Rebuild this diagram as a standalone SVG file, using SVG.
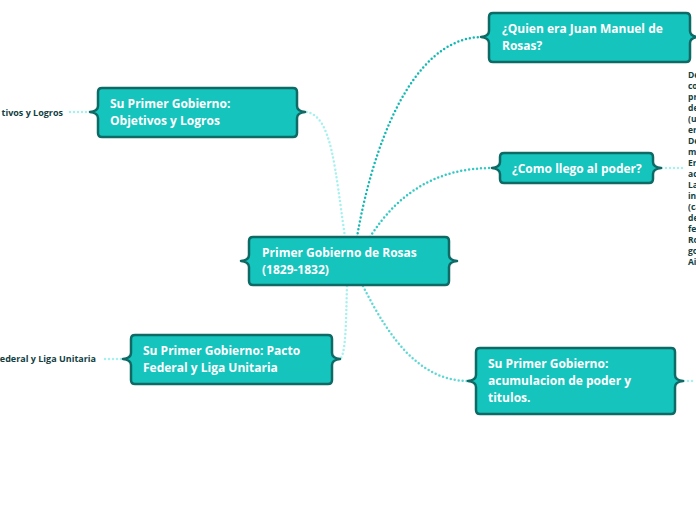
<svg xmlns="http://www.w3.org/2000/svg" width="696" height="520" viewBox="0 0 696 520">
<style>
.node path{fill:#15c4bd;stroke:#0f6a66;stroke-width:2.5;stroke-linejoin:round}
.node text{font-family:"Open Sans","Noto Sans","Liberation Sans",sans-serif;font-weight:bold;font-size:12px;fill:#ffffff}
.c{fill:none;stroke-width:2.5;stroke-linecap:round;stroke-dasharray:0 4}
.frag{font-family:"Open Sans","Noto Sans","Liberation Sans",sans-serif;font-weight:bold;font-size:8.5px;fill:#12403f}
.side{font-size:9px}
</style>
<rect width="696" height="520" fill="#ffffff"/>
<g id="connectors">
<path class="c" stroke="#13b8b2" d="M357,237 C372,150 410,40 480,37"/>
<path class="c" stroke="#35c9c4" d="M370,237 C400,190 440,168 492,168"/>
<path class="c" stroke="#a6f1ef" d="M345,237 C335,170 332,115 306,112"/>
<path class="c" stroke="#a6f1ef" d="M347,286 C346,320 346,350 341,358"/>
<path class="c" stroke="#5fd8d4" d="M363,286 C390,340 420,380 467,381"/>
<path class="c" stroke="#a6f1ef" stroke-width="1.5" d="M90,112 H66"/>
<path class="c" stroke="#a6f1ef" stroke-width="1.5" d="M121,359 H101"/>
<path class="c" stroke="#a6f1ef" stroke-width="1.5" d="M662,168 H686"/>
<path class="c" stroke="#a6f1ef" stroke-width="1.5" d="M684,381 H696"/>
</g>
<g id="central" class="node">
<path d="M253,237 H445 Q449,237 449,241 V255 Q449,260 457,261 Q449,262 449,267 V281 Q449,285 445,285 H253 Q249,285 249,281 V267 Q249,262 241,261 Q249,260 249,255 V241 Q249,237 253,237 Z"/>
<text x="262" y="257">Primer Gobierno de Rosas</text>
<text x="262" y="274">(1829-1832)</text>
</g>
<g id="quien" class="node">
<path d="M493,13 H686 Q690,13 690,17 V31 Q690,36 698,37 Q690,38 690,43 V58 Q690,62 686,62 H493 Q489,62 489,58 V43 Q489,38 481,37 Q489,36 489,31 V17 Q489,13 493,13 Z"/>
<text x="502" y="33">¿Quien era Juan Manuel de</text>
<text x="502" y="50">Rosas?</text>
</g>
<g id="como" class="node">
<path d="M504,153 H649 Q653,153 653,157 V162 Q653,167 661,168 Q653,169 653,174 V179 Q653,183 649,183 H504 Q500,183 500,179 V174 Q500,169 492,168 Q500,167 500,162 V157 Q500,153 504,153 Z"/>
<text x="512" y="173">¿Como llego al poder?</text>
</g>
<g id="objetivos" class="node">
<path d="M102,88 H293 Q297,88 297,92 V106 Q297,111 305,112 Q297,113 297,118 V133 Q297,137 293,137 H102 Q98,137 98,133 V118 Q98,113 90,112 Q98,111 98,106 V92 Q98,88 102,88 Z"/>
<text x="110" y="108">Su Primer Gobierno:</text>
<text x="110" y="125">Objetivos y Logros</text>
</g>
<g id="pacto" class="node">
<path d="M135,335 H328 Q332,335 332,339 V353 Q332,358 340,359 Q332,360 332,365 V380 Q332,384 328,384 H135 Q131,384 131,380 V365 Q131,360 123,359 Q131,358 131,353 V339 Q131,335 135,335 Z"/>
<text x="143" y="355">Su Primer Gobierno: Pacto</text>
<text x="143" y="372">Federal y Liga Unitaria</text>
</g>
<g id="acumulacion" class="node">
<path d="M480,348 H671 Q675,348 675,352 V375 Q675,380 683,381 Q675,382 675,387 V410 Q675,414 671,414 H480 Q476,414 476,410 V387 Q476,382 468,381 Q476,380 476,375 V352 Q476,348 480,348 Z"/>
<text x="488" y="368">Su Primer Gobierno:</text>
<text x="488" y="385">acumulacion de poder y</text>
<text x="488" y="402">titulos.</text>
</g>
<g id="labels">
<text class="frag side" x="63" y="116" text-anchor="end">tivos y Logros</text>
<text class="frag side" x="96" y="362" text-anchor="end">ederal y Liga Unitaria</text>
<text class="frag" x="688" y="78">De</text>
<text class="frag" x="688" y="89">co</text>
<text class="frag" x="688" y="100">pr</text>
<text class="frag" x="688" y="111">de</text>
<text class="frag" x="688" y="122">(u</text>
<text class="frag" x="688" y="133">er</text>
<text class="frag" x="688" y="144">De</text>
<text class="frag" x="688" y="155">m</text>
<text class="frag" x="688" y="166">Er</text>
<text class="frag" x="688" y="177">ac</text>
<text class="frag" x="688" y="188">La</text>
<text class="frag" x="688" y="199">in</text>
<text class="frag" x="688" y="210">(ca</text>
<text class="frag" x="688" y="221">de</text>
<text class="frag" x="688" y="232">fe</text>
<text class="frag" x="688" y="243">Ro</text>
<text class="frag" x="688" y="254">go</text>
<text class="frag" x="688" y="265">Ai</text>
</g>
</svg>
